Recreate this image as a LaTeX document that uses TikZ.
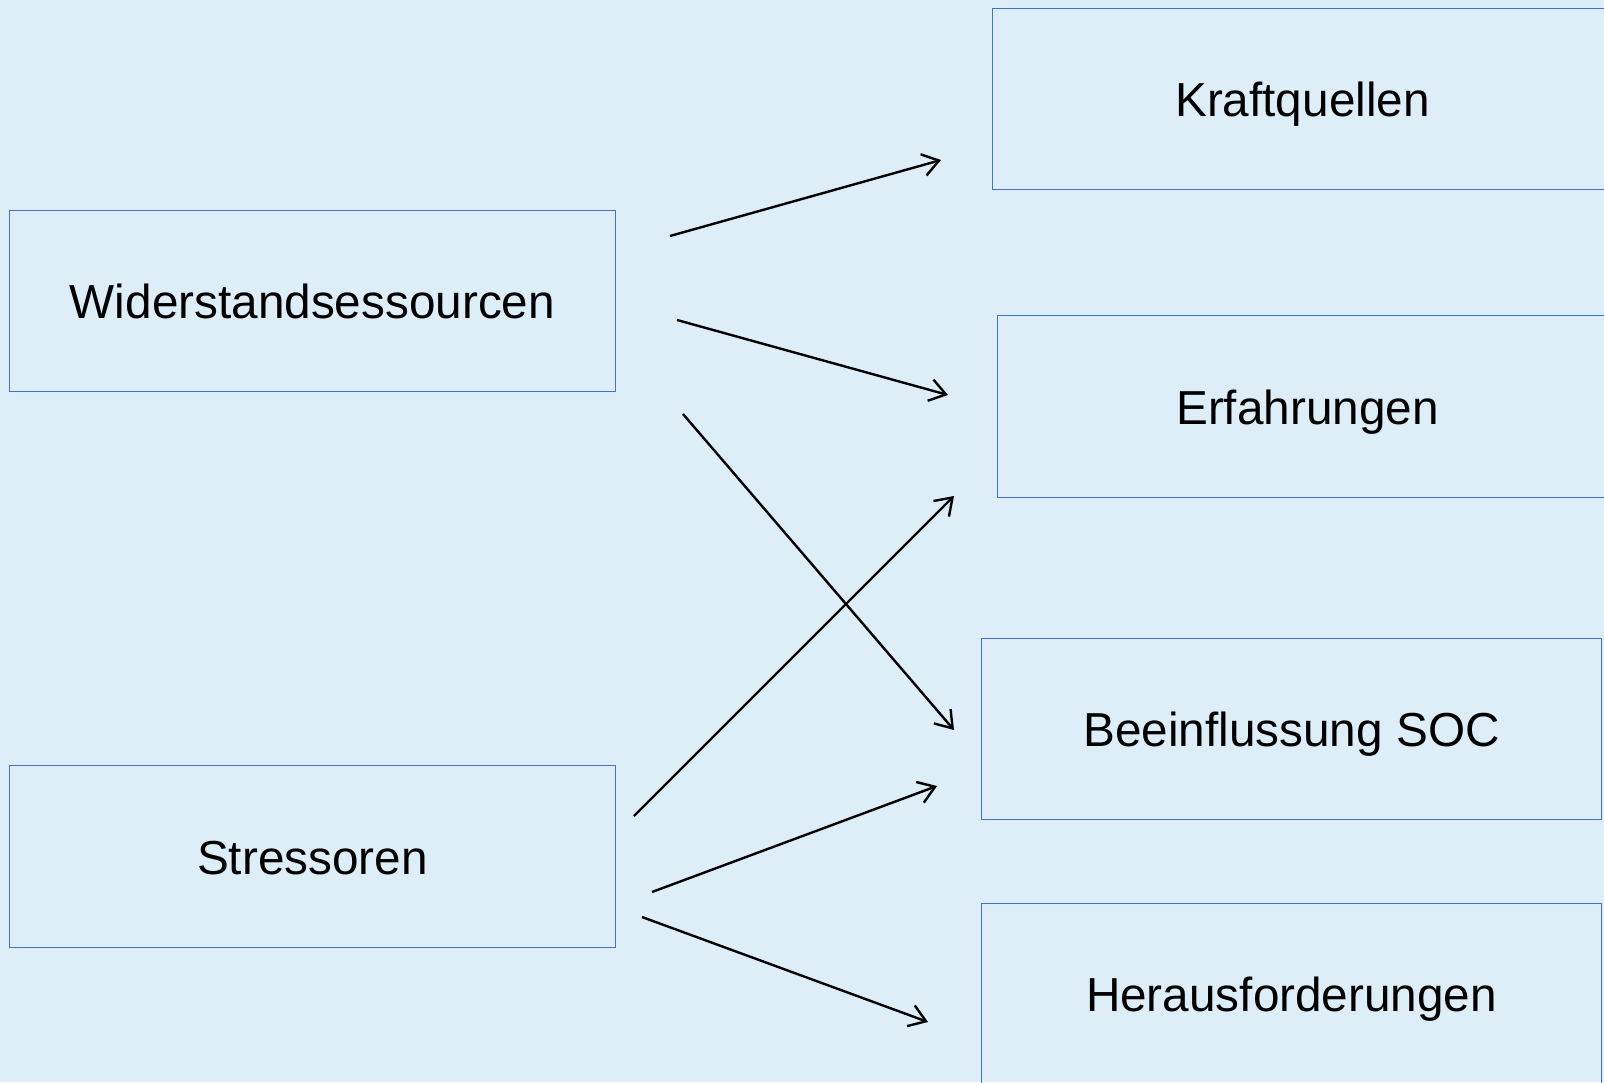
\documentclass[tikz,border=0pt]{standalone}
\usepackage{fontspec}
\setmainfont{Liberation Sans}
\usetikzlibrary{arrows.meta}
\definecolor{bg}{HTML}{DEEEF9}
\definecolor{bd}{HTML}{4472C4}
\begin{document}
\begin{tikzpicture}[x=1pt,y=-1pt,
  box/.style={draw=bd, line width=1pt, minimum height=181pt, inner sep=0pt,
    text height=35pt, text depth=0pt,
    font=\fontsize{47.7}{57}\selectfont, anchor=north west},
  leftbox/.style={box, minimum width=606pt},
  rightbox/.style={box, minimum width=620pt},
  conn/.style={line width=2.4pt, -{Straight Barb[length=16pt,width=22pt,line width=2.4pt]}}]
\useasboundingbox (0,0) rectangle (1604,1082);
\fill[bg] (0,0) rectangle (1604,1082);
\clip (0,0) rectangle (1604,1082);
% boxes
\node[leftbox] (wid) at (9,210) {Widerstandsessourcen};
\node[leftbox, minimum height=182pt] (str) at (9,765) {Stressoren};
\node[rightbox] (kra) at (992,8) {Kraftquellen};
\node[rightbox, minimum height=182pt] (erf) at (997,315) {Erfahrungen};
\node[rightbox] (bee) at (981,638) {Beeinflussung SOC};
\node[rightbox] (her) at (981,903) {Herausforderungen};
% connector end points
\coordinate (w1) at (670,236);
\coordinate (k1) at (941,160);
\coordinate (w2) at (677,320);
\coordinate (e1) at (948,395);
\coordinate (w3) at (683,414);
\coordinate (b1) at (954,730);
\coordinate (s1) at (634,816);
\coordinate (e2) at (954,496);
\coordinate (s2) at (652,892);
\coordinate (b2) at (937,786);
\coordinate (s3) at (642,917);
\coordinate (h1) at (928,1022);
% connectors
\draw[conn] (w1) -- (k1);
\draw[conn] (w2) -- (e1);
\draw[conn] (w3) -- (b1);
\draw[conn] (s1) -- (e2);
\draw[conn] (s2) -- (b2);
\draw[conn] (s3) -- (h1);
\end{tikzpicture}
\end{document}
